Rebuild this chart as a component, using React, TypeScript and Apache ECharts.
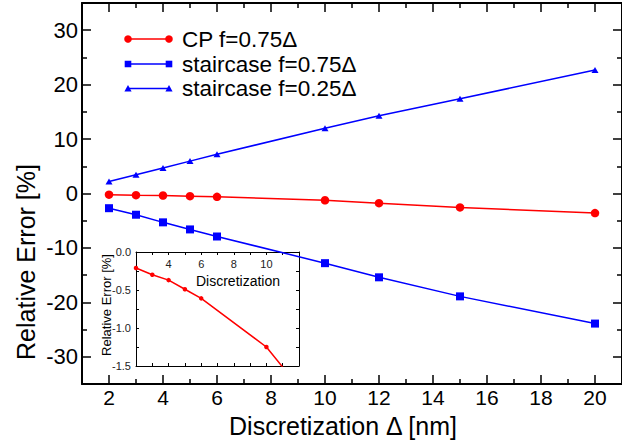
import React, { useEffect, useRef } from "react";
import * as echarts from "echarts";

// ---- data ----
const xValues = [2, 3, 4, 5, 6, 10, 12, 15, 20];
const cpF075 = [-0.21, -0.3, -0.37, -0.49, -0.61, -1.25, -1.78, -2.55, -3.6];
const stairF075 = [-2.7, -3.9, -5.3, -6.6, -7.9, -12.8, -15.4, -18.9, -23.9];
const stairF025 = [2.2, 3.45, 4.7, 5.95, 7.2, 12.0, 14.3, 17.4, 22.7];

const seriesNames = ["CP f=0.75Δ", "staircase f=0.75Δ", "staircase f=0.25Δ"];

// tick positions
const xMajorTicks = [2, 4, 6, 8, 10, 12, 14, 16, 18, 20];
const xMinorTicks = [3, 5, 7, 9, 11, 13, 15, 17, 19];
const yMajorTicks = [-30, -20, -10, 0, 10, 20, 30];
const yMinorTicks = [-25, -15, -5, 5, 15, 25];
const insetXTicks = [3, 4, 5, 6, 7, 8, 9, 10, 11];
const insetXLabels = [4, 6, 8, 10];
const insetYTicks = [-1.25, -1, -0.75, -0.5, -0.25];
const insetYLabels = [-1.5, -1, -0.5, 0];

const FONT = "'Liberation Sans', Arial, Helvetica, sans-serif";
const RED = "#ff0000";
const BLUE = "#0000ff";

function pairs(ys: number[]) {
  return xValues.map((x, i) => [x, ys[i]]);
}

export default function App() {
  const ref = useRef<HTMLDivElement>(null);

  useEffect(() => {
    if (!ref.current) return;
    const chart = echarts.init(ref.current, undefined, { renderer: "svg" });

    const mainX = { min: 1, max: 21 };
    const mainY = { min: -35, max: 35 };
    const axisLineStyle = { show: true, onZero: false, lineStyle: { color: "#000", width: 2 } };

    const tick = (values: number[], len: number) => ({
      show: true,
      inside: true,
      length: len,
      customValues: values,
      lineStyle: { color: "#000", width: 1.5 },
    });
    const insetTick = (values: number[], len: number) => ({
      show: true,
      inside: true,
      length: len,
      customValues: values,
      lineStyle: { color: "#000", width: 1 },
    });

    const xAxis: any[] = [
      {
        type: "value", gridIndex: 0, position: "bottom", ...mainX,
        axisLine: axisLineStyle,
        axisTick: tick(xMajorTicks, 9),
        axisLabel: { show: true, customValues: xMajorTicks, color: "#000", fontSize: 21, fontFamily: FONT, margin: 3, lineHeight: 21 },
        splitLine: { show: false },
      },
      {
        type: "value", gridIndex: 0, position: "bottom", ...mainX,
        axisLine: { show: false, onZero: false },
        axisTick: tick(xMinorTicks, 5),
        axisLabel: { show: false },
        splitLine: { show: false },
      },
      {
        type: "value", gridIndex: 0, position: "top", ...mainX,
        axisLine: axisLineStyle,
        axisTick: tick(xMajorTicks, 9),
        axisLabel: { show: false },
        splitLine: { show: false },
      },
      {
        type: "value", gridIndex: 0, position: "top", ...mainX,
        axisLine: { show: false, onZero: false },
        axisTick: tick(xMinorTicks, 5),
        axisLabel: { show: false },
        splitLine: { show: false },
      },
      {
        type: "value", gridIndex: 1, position: "top", min: 2, max: 12,
        axisLine: { show: true, onZero: false, lineStyle: { color: "#000", width: 1 } },
        axisTick: insetTick(insetXTicks, 3),
        axisLabel: { show: true, inside: true, customValues: insetXLabels, color: "#222", fontSize: 11, fontFamily: FONT, margin: 6 },
        splitLine: { show: false },
      },
      {
        type: "value", gridIndex: 1, position: "bottom", min: 2, max: 12,
        axisLine: { show: true, onZero: false, lineStyle: { color: "#000", width: 1 } },
        axisTick: insetTick(insetXTicks, 3),
        axisLabel: { show: false },
        splitLine: { show: false },
      },
    ];

    const yAxis: any[] = [
      {
        type: "value", gridIndex: 0, position: "left", ...mainY,
        axisLine: axisLineStyle,
        axisTick: tick(yMajorTicks, 9),
        axisLabel: { show: true, customValues: yMajorTicks, color: "#000", fontSize: 22, fontFamily: FONT, margin: 4 },
        splitLine: { show: false },
      },
      {
        type: "value", gridIndex: 0, position: "left", ...mainY,
        axisLine: { show: false, onZero: false },
        axisTick: tick(yMinorTicks, 5),
        axisLabel: { show: false },
        splitLine: { show: false },
      },
      {
        type: "value", gridIndex: 0, position: "right", ...mainY,
        axisLine: axisLineStyle,
        axisTick: tick(yMajorTicks, 9),
        axisLabel: { show: false },
        splitLine: { show: false },
      },
      {
        type: "value", gridIndex: 0, position: "right", ...mainY,
        axisLine: { show: false, onZero: false },
        axisTick: tick(yMinorTicks, 5),
        axisLabel: { show: false },
        splitLine: { show: false },
      },
      {
        type: "value", gridIndex: 1, position: "left", min: -1.5, max: 0,
        axisLine: { show: true, onZero: false, lineStyle: { color: "#000", width: 1 } },
        axisTick: insetTick(insetYTicks, 3),
        axisLabel: {
          show: true, customValues: insetYLabels, color: "#222", fontSize: 11, fontFamily: FONT, margin: 5,
          formatter: (v: number) => v.toFixed(1),
        },
        splitLine: { show: false },
      },
      {
        type: "value", gridIndex: 1, position: "right", min: -1.5, max: 0,
        axisLine: { show: true, onZero: false, lineStyle: { color: "#000", width: 1 } },
        axisTick: insetTick(insetYTicks, 3),
        axisLabel: { show: false },
        splitLine: { show: false },
      },
    ];

    const legendRows = [
      { y: 39, color: RED, shape: "circle" },
      { y: 64, color: BLUE, shape: "square" },
      { y: 88.5, color: BLUE, shape: "triangle" },
    ];
    const lx0 = 128, lx1 = 169;
    const legendGraphics: any[] = [];
    legendRows.forEach((r, i) => {
      legendGraphics.push({
        type: "line", shape: { x1: lx0, y1: r.y, x2: lx1, y2: r.y },
        style: { stroke: r.color, lineWidth: 1.5 }, z: 10,
      });
      [lx0, lx1].forEach((cx) => {
        if (r.shape === "circle") {
          legendGraphics.push({ type: "circle", shape: { cx, cy: r.y, r: 3.8 }, style: { fill: r.color }, z: 11 });
        } else if (r.shape === "square") {
          legendGraphics.push({ type: "rect", shape: { x: cx - 3.3, y: r.y - 3.3, width: 6.6, height: 6.6 }, style: { fill: r.color }, z: 11 });
        } else {
          legendGraphics.push({
            type: "polygon",
            shape: { points: [[cx - 3.6, r.y + 3], [cx + 3.6, r.y + 3], [cx, r.y - 3.5]] },
            style: { fill: r.color }, z: 11,
          });
        }
      });
      legendGraphics.push({
        type: "text", x: 182, y: r.y,
        style: { text: seriesNames[i], fill: "#000", fontSize: 22.5, fontFamily: FONT, verticalAlign: "middle" },
        z: 11,
      });
    });

    const option: any = {
      animation: false,
      backgroundColor: "#fff",
      grid: [
        { left: 82, top: 3, width: 543, height: 381, containLabel: false },
        { left: 136, top: 252, width: 163, height: 114, containLabel: false },
      ],
      xAxis,
      yAxis,
      graphic: [
        ...legendGraphics,
        {
          type: "text", x: 343, y: 426,
          style: { text: "Discretization Δ [nm]", fill: "#000", fontSize: 25, fontFamily: FONT, align: "center", verticalAlign: "middle" },
        },
        {
          type: "text", x: 26, y: 262, rotation: Math.PI / 2,
          style: { text: "Relative Error [%]", fill: "#000", fontSize: 25, fontFamily: FONT, align: "center", verticalAlign: "middle" },
        },
        {
          type: "text", x: 238, y: 281,
          style: { text: "Discretization", fill: "#000", fontSize: 14, fontFamily: FONT, align: "center", verticalAlign: "middle" },
        },
        {
          type: "text", x: 106, y: 305, rotation: Math.PI / 2,
          style: { text: "Relative Error [%]", fill: "#000", fontSize: 13, fontFamily: FONT, align: "center", verticalAlign: "middle" },
        },
      ],
      series: [
        {
          name: seriesNames[0], type: "line", xAxisIndex: 0, yAxisIndex: 0,
          data: pairs(cpF075), symbol: "circle", symbolSize: 8.5,
          lineStyle: { color: RED, width: 1.5 }, itemStyle: { color: RED }, z: 5,
        },
        {
          name: seriesNames[1], type: "line", xAxisIndex: 0, yAxisIndex: 0,
          data: pairs(stairF075), symbol: "rect", symbolSize: 8,
          lineStyle: { color: BLUE, width: 1.5 }, itemStyle: { color: BLUE }, z: 5,
        },
        {
          name: seriesNames[2], type: "line", xAxisIndex: 0, yAxisIndex: 0,
          data: pairs(stairF025), symbol: "triangle", symbolSize: [7, 6],
          lineStyle: { color: BLUE, width: 1.5 }, itemStyle: { color: BLUE }, z: 5,
        },
        {
          name: "inset", type: "line", xAxisIndex: 4, yAxisIndex: 4,
          data: pairs(cpF075), symbol: "circle", symbolSize: 4.5, clip: true,
          lineStyle: { color: RED, width: 1.5 }, itemStyle: { color: RED }, z: 4,
        },
      ],
    };

    chart.setOption(option);
    return () => chart.dispose();
  }, []);

  return (
    <div
      ref={ref}
      style={{ position: "fixed", left: 0, top: 0, width: 622, height: 442, background: "#fff" }}
    />
  );
}
